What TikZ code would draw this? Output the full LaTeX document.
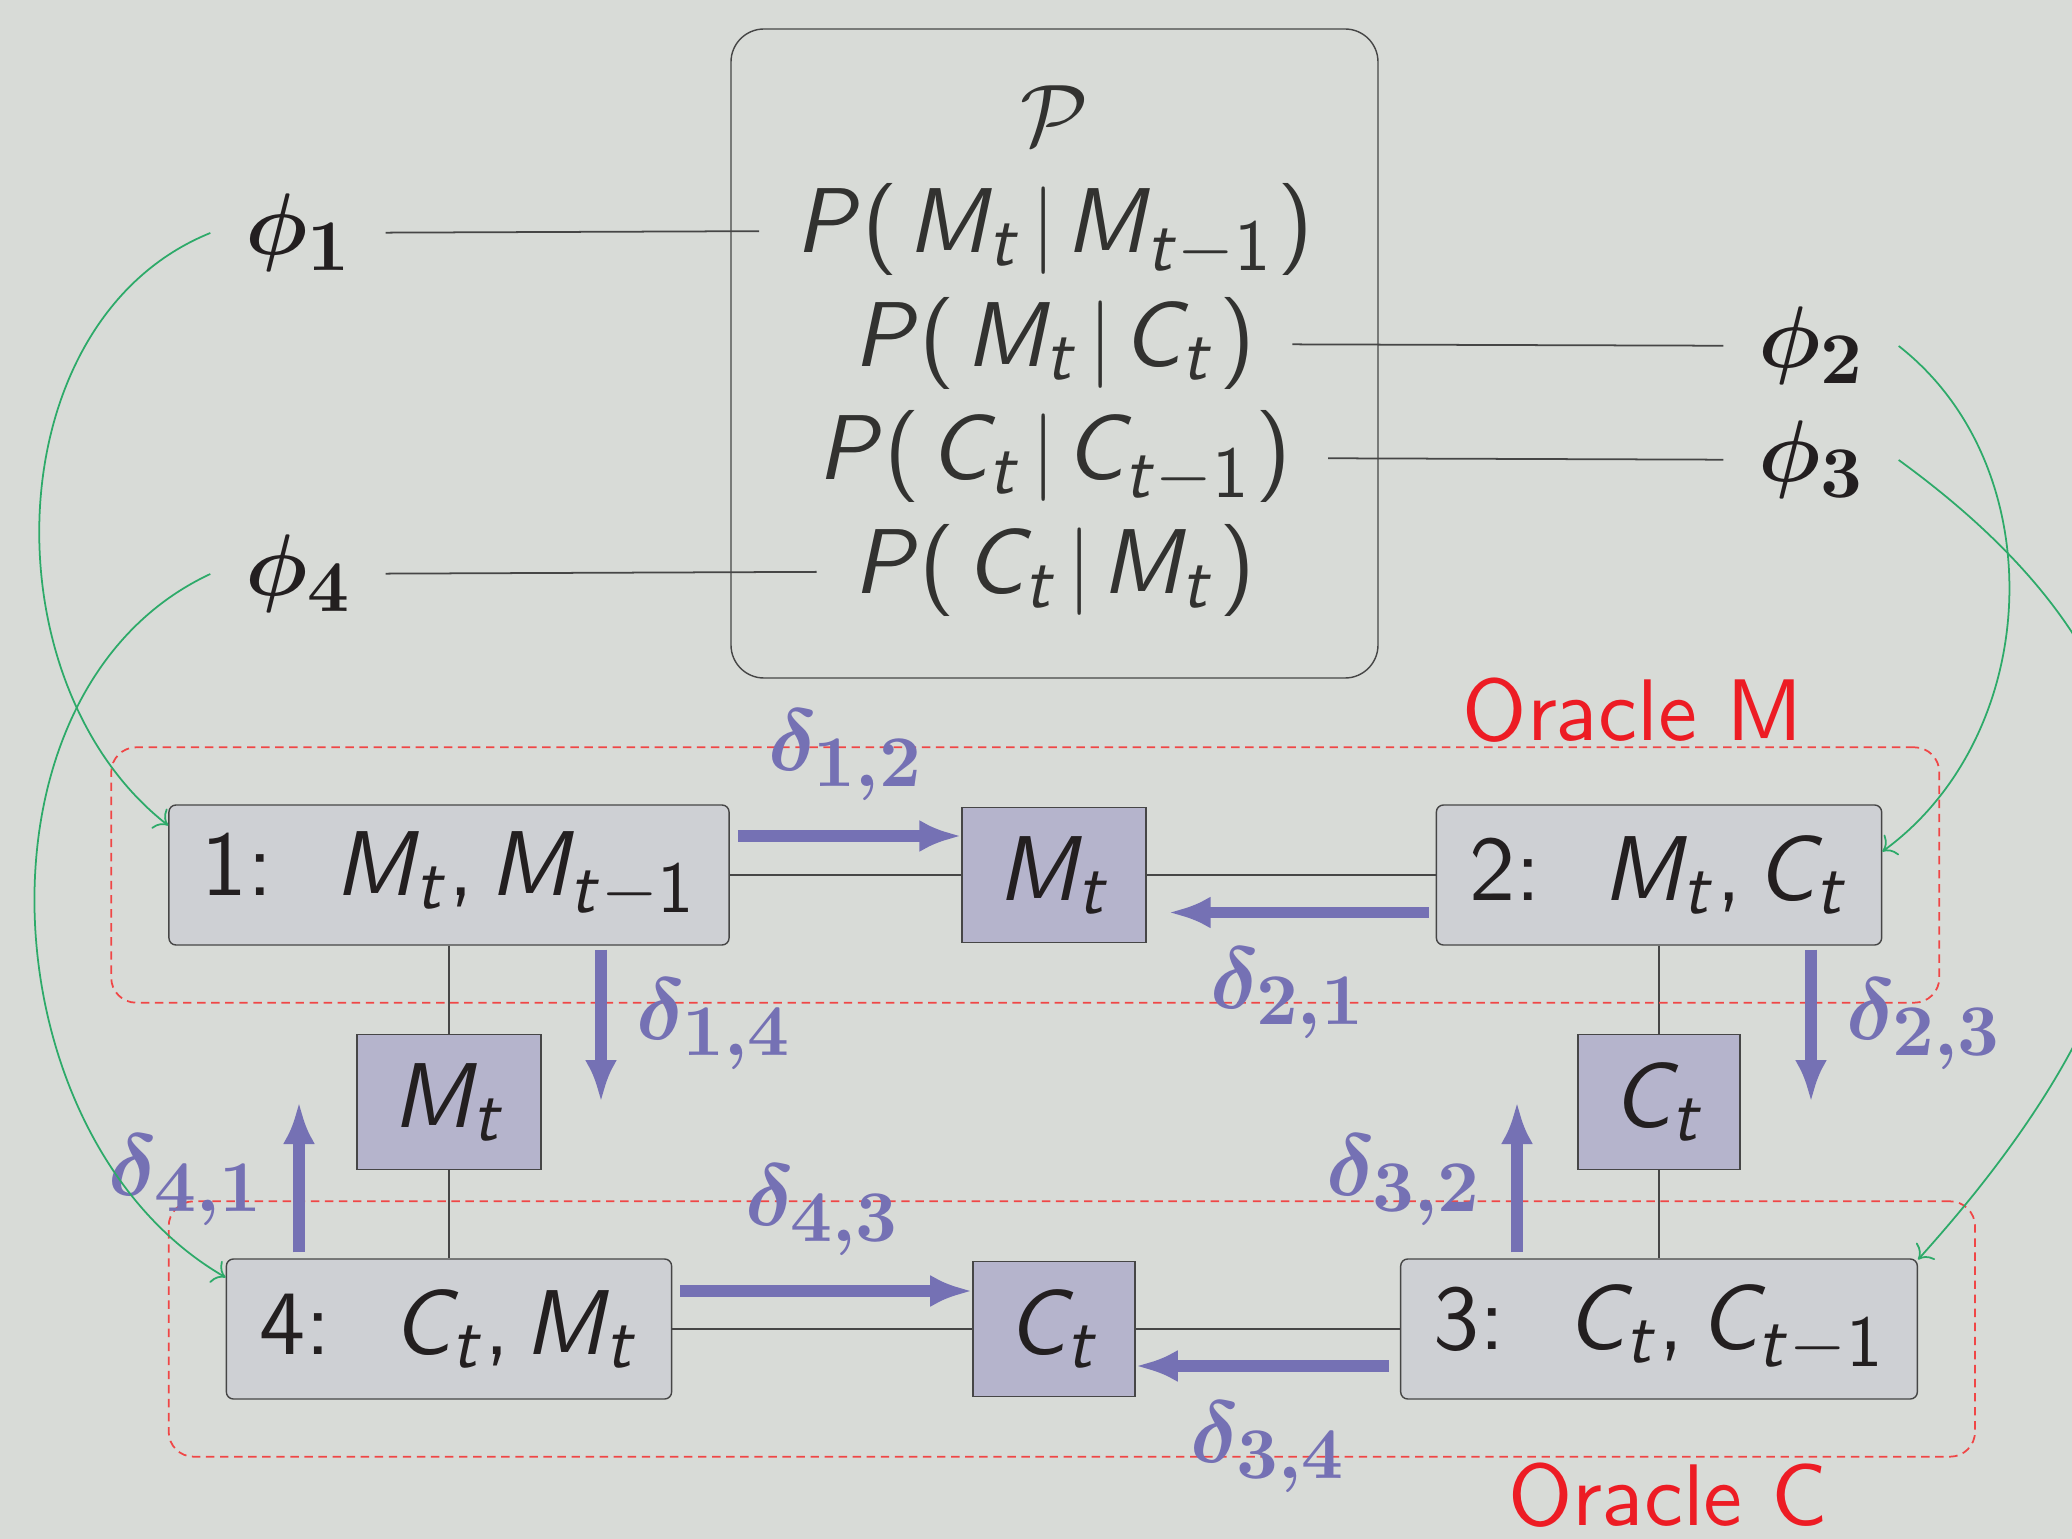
\documentclass[tikz,border=0pt]{standalone}
\usepackage{xcolor}
\usepackage{tikz}
\usetikzlibrary{arrows.meta,positioning,fit}

\DeclareFontFamily{OT1}{slidess}{}
\DeclareFontShape{OT1}{slidess}{m}{n}{<-> cmss10}{}
\DeclareFontShape{OT1}{slidess}{m}{sl}{<-> cmssi10}{}
\DeclareFontFamily{OT1}{slidebx}{}
\DeclareFontShape{OT1}{slidebx}{bx}{n}{<-> cmbx10}{}

\DeclareSymbolFont{sfupright}{OT1}{slidess}{m}{n}
\SetSymbolFont{sfupright}{bold}{OT1}{slidebx}{bx}{n}
\DeclareSymbolFont{sfslanted}{OT1}{slidess}{m}{sl}
\DeclareMathSymbol{M}{\mathalpha}{sfslanted}{`M}
\DeclareMathSymbol{C}{\mathalpha}{sfslanted}{`C}
\DeclareMathSymbol{P}{\mathalpha}{sfslanted}{`P}
\DeclareMathSymbol{t}{\mathalpha}{sfslanted}{`t}
\DeclareMathSymbol{1}{\mathalpha}{sfupright}{`1}
\DeclareMathSymbol{2}{\mathalpha}{sfupright}{`2}
\DeclareMathSymbol{3}{\mathalpha}{sfupright}{`3}
\DeclareMathSymbol{4}{\mathalpha}{sfupright}{`4}
\DeclareMathSymbol{(}{\mathopen}{sfupright}{`(}
\DeclareMathSymbol{)}{\mathclose}{sfupright}{`)}
\DeclareMathSymbol{,}{\mathpunct}{sfupright}{`,}
\DeclareMathSizes{26.2}{26.2}{20.74}{14.4}

\newcommand{\diagfont}{\fontencoding{OT1}\fontfamily{slidess}\fontseries{m}\fontshape{n}\fontsize{26.2}{31}\selectfont}
\newcommand{\labelfont}{\fontencoding{OT1}\fontfamily{slidess}\fontseries{m}\fontshape{n}\fontsize{24.88}{30}\selectfont}
\newcommand{\cond}[2]{P(\mkern2mu#1\mkern2mu|\mkern2mu#2\mkern1mu)}

\definecolor{bggray}{RGB}{216,219,215}
\definecolor{factorfill}{RGB}{206,208,212}
\definecolor{sepfill}{RGB}{181,180,204}
\definecolor{msgpurple}{RGB}{117,113,180}
\definecolor{oraclered}{RGB}{237,28,36}
\definecolor{dashred}{RGB}{240,70,70}
\definecolor{assigngreen}{RGB}{45,170,105}
\definecolor{linegray}{RGB}{70,70,70}
\definecolor{inkblack}{RGB}{35,31,32}
\definecolor{formulaink}{RGB}{50,50,48}

\begin{document}
\begin{tikzpicture}[
        node distance=2.27cm and 6.05cm, on grid,
        model/.style={draw=linegray, rounded corners=0.33cm, minimum width=6.47cm, minimum height=6.49cm},
        formula/.style={inner xsep=0.36cm, text=formulaink, font=\diagfont},
        potential/.style={inner xsep=0.34cm, text=inkblack, font=\boldmath\labelfont},
        factor/.style={draw=linegray, fill=factorfill, rounded corners=2pt, minimum height=1.4cm, inner xsep=0.33cm, text=inkblack, font=\diagfont},
        sepset/.style={draw=linegray, fill=sepfill, minimum height=1.35cm, inner xsep=0.35cm, text=inkblack, font=\diagfont},
        tie/.style={draw=linegray, line width=0.5pt},
        msg/.style={draw=msgpurple, line width=3.2pt, -{Latex[length=4.2mm,width=3.2mm]}},
        dlabel/.style={text=msgpurple, font=\boldmath\labelfont, inner sep=0.3cm},
        assign/.style={draw=assigngreen, line width=0.5pt, -{To[length=1.2mm]}},
        oracle/.style={draw=dashred, dash pattern=on 2.4pt off 1.6pt, line width=0.5pt, rounded corners=0.25cm, inner sep=0.57cm},
        oraclename/.style={text=oraclered, font=\labelfont}
    ]
        \path[use as bounding box, fill=bggray] (0,0) rectangle (20.72,-15.39);

        \node[model] (pbox) at (10.545,-3.535) {};
        \node[formula] (calp) at (10.545,-1.16) {$\mathcal{P}$};
        \node[formula, below=1.14cm of calp] (pmm) {$\cond{M_t}{M_{t-1}}$};
        \node[formula, below=1.136cm of pmm] (pmc) {$\cond{M_t}{C_t}$};
        \node[formula, below=1.137cm of pmc] (pcc) {$\cond{C_t}{C_{t-1}}$};
        \node[formula, below=1.136cm of pcc] (pcm) {$\cond{C_t}{M_t}$};

        \node[potential] (phi1) at (2.98,-2.33) {$\phi_1$};
        \node[potential] (phi2) at (18.11,-3.46) {$\phi_2$};
        \node[potential] (phi3) at (18.11,-4.60) {$\phi_3$};
        \node[potential] (phi4) at (2.98,-5.74) {$\phi_4$};

        \draw[tie] (phi1) -- (pmm);
        \draw[tie] (pmc) -- (phi2);
        \draw[tie] (pcc) -- (phi3);
        \draw[tie] (phi4) -- (pcm);

        \node[factor] (f1) at (4.49,-8.75) {1:\ \ $M_t, M_{t-1}$};
        \node[sepset, right=of f1] (s12) {$M_t$};
        \node[factor, right=of s12] (f2) {2:\ \ $M_t, C_t$};
        \node[sepset, below=of f1] (s14) {$M_t$};
        \node[sepset, below=of f2] (s23) {$C_t$};
        \node[factor, below=of s14] (f4) {4:\ \ $C_t, M_t$};
        \node[sepset, right=of f4] (s34) {$C_t$};
        \node[factor, right=of s34] (f3) {3:\ \ $C_t, C_{t-1}$};

        \draw[tie] (f1) -- (s12);
        \draw[tie] (s12) -- (f2);
        \draw[tie] (f1) -- (s14);
        \draw[tie] (s14) -- (f4);
        \draw[tie] (f2) -- (s23);
        \draw[tie] (s23) -- (f3);
        \draw[tie] (f4) -- (s34);
        \draw[tie] (s34) -- (f3);

        \node[oracle, fit=(f1)(f2)] (oraclem) {};
        \node[oracle, fit=(f4)(f3)] (oraclec) {};
        \node[oraclename] (namem) at (16.33,-7.10) {Oracle M};
        \node[oraclename] (namec) at (16.68,-14.95) {Oracle C};

        \draw[msg, shorten <=0.08cm] ([yshift=0.39cm]f1.east) -- ([yshift=0.39cm]s12.west) node[dlabel, midway, above] {$\delta_{1,2}$};
        \draw[msg, shorten >=0.22cm] ([xshift=-0.07cm, yshift=-0.375cm]f2.west) -- ([yshift=-0.375cm]s12.east) node[dlabel, midway, below] {$\delta_{2,1}$};
        \draw[msg, shorten <=0.04cm] ([xshift=1.52cm]f1.south) -- ([xshift=1.52cm]s14.center) node[dlabel, midway, right] {$\delta_{1,4}$};
        \draw[msg, shorten <=0.04cm] ([xshift=1.52cm]f2.south) -- ([xshift=1.52cm]s23.center) node[dlabel, midway, right] {$\delta_{2,3}$};
        \draw[msg, shorten <=0.06cm] ([xshift=-1.5cm]f4.north) -- ([xshift=-1.5cm]s14.center) node[dlabel, midway, left] {$\delta_{4,1}$};
        \draw[msg, shorten <=0.06cm] ([xshift=-1.42cm]f3.north) -- ([xshift=-1.42cm]s23.center) node[dlabel, midway, left] {$\delta_{3,2}$};
        \draw[msg, shorten <=0.08cm] ([yshift=0.38cm]f4.east) -- ([yshift=0.38cm]s34.west) node[dlabel, midway, above] {$\delta_{4,3}$};
        \draw[msg, shorten <=0.11cm] ([yshift=-0.37cm]f3.west) -- ([yshift=-0.37cm]s34.east) node[dlabel, midway, below] {$\delta_{3,4}$};

        \draw[assign] (phi1.west) to[out=202, in=142] (f1.170);
        \draw[assign] (phi4.west) to[out=205, in=150] (f4.167);
        \draw[assign] (phi2.east) to[out=-38, in=36] (f2.6);
        \draw[assign] (phi3.east) to[out=-36, in=48, looseness=1.3] (f3.15);
    \end{tikzpicture}
\end{document}
